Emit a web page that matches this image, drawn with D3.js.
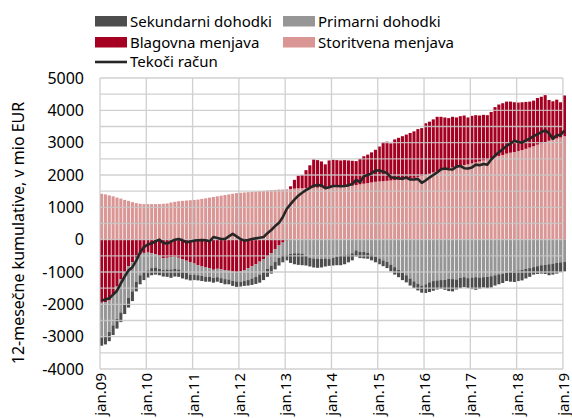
<!DOCTYPE html>
<html>
<head>
<meta charset="utf-8">
<script src="https://cdn.jsdelivr.net/npm/d3@7"></script>
<style>
  body { margin: 0; background: #fff; }
  text { font-family: "Noto Sans", sans-serif; fill: #000; }
</style>
</head>
<body>
<script>
// monthly data, jan.09 - jan.19 (12-month cumulatives, mio EUR)
var tickLabels = ["jan.09","jan.10","jan.11","jan.12","jan.13","jan.14","jan.15","jan.16","jan.17","jan.18","jan.19"];

var storitvena = [1420,1400,1370,1340,1300,1270,1230,1200,1160,1130,1110,1100,
  1100,1100,1100,1100,1110,1120,1150,1170,1190,1200,1210,1220,
  1230,1240,1260,1280,1300,1320,1340,1360,1380,1400,1420,1440,
  1450,1460,1470,1480,1490,1500,1510,1520,1530,1540,1550,1550,
  1560,1570,1580,1590,1590,1600,1600,1610,1610,1620,1620,1630,
  1640,1640,1650,1650,1660,1670,1690,1710,1730,1750,1770,1790,
  1800,1810,1820,1830,1840,1850,1860,1870,1890,1910,1940,1970,
  2000,2040,2080,2110,2140,2170,2200,2230,2260,2280,2310,2330,
  2360,2390,2420,2450,2480,2510,2550,2590,2620,2660,2690,2710,
  2740,2770,2810,2850,2890,2940,2980,3020,3060,3090,3130,3160,
  3200];

var blagovna = [-1950,-1930,-1880,-1700,-1450,-1220,-1000,-820,-700,-560,-460,-410,
  -400,-420,-450,-500,-580,-560,-540,-530,-560,-600,-650,-690,
  -740,-790,-830,-860,-880,-930,-900,-920,-940,-960,-990,-1000,
  -990,-940,-880,-820,-760,-680,-600,-520,-420,-300,-180,-90,
  -30,80,270,390,410,550,700,870,850,800,710,820,
  830,820,800,810,790,770,740,790,850,880,930,990,
  1080,1210,1210,1150,1260,1300,1340,1380,1410,1440,1480,1480,
  1600,1610,1640,1690,1660,1610,1560,1570,1520,1540,1530,1450,
  1470,1460,1420,1410,1370,1440,1550,1590,1600,1610,1580,1540,
  1500,1480,1450,1420,1410,1440,1440,1450,1260,1190,1200,1090,
  1260];

var primarni = [-1070,-1070,-970,-950,-1000,-1030,-1000,-980,-900,-740,-640,-590,
  -550,-460,-410,-400,-360,-360,-380,-370,-360,-380,-380,-390,
  -340,-310,-290,-290,-270,-250,-260,-270,-280,-270,-280,-290,
  -310,-340,-370,-380,-390,-400,-400,-380,-380,-380,-380,-380,
  -430,-440,-420,-420,-430,-500,-560,-580,-590,-590,-580,-600,
  -560,-520,-490,-470,-460,-420,-330,-370,-380,-400,-460,-520,
  -580,-640,-690,-770,-850,-940,-1020,-1100,-1200,-1290,-1360,-1420,
  -1380,-1320,-1280,-1260,-1250,-1240,-1210,-1220,-1230,-1180,-1160,-1190,
  -1170,-1160,-1170,-1160,-1150,-1130,-1100,-1070,-1050,-1020,-1000,-970,
  -950,-930,-900,-880,-850,-820,-790,-780,-760,-740,-720,-700,
  -680];

var sekundarni = [-260,-240,-290,-300,-300,-300,-300,-300,-300,-300,-280,-250,
  -220,-220,-220,-200,-200,-230,-260,-240,-230,-220,-200,-180,
  -170,-160,-160,-150,-150,-150,-140,-150,-160,-150,-160,-170,
  -150,-150,-170,-200,-220,-250,-250,-250,-250,-240,-240,-230,
  -180,-280,-340,-360,-360,-300,-270,-280,-280,-270,-250,-210,
  -240,-270,-300,-290,-240,-220,-190,-200,-200,-190,-180,-180,
  -180,-180,-190,-210,-230,-220,-230,-220,-220,-210,-210,-220,
  -270,-300,-300,-280,-270,-310,-380,-380,-310,-320,-310,-310,
  -360,-390,-350,-320,-350,-350,-320,-310,-290,-260,-300,-340,
  -330,-330,-300,-270,-230,-240,-260,-280,-340,-340,-330,-300,
  -300];

var tekoci = [-1880,-1850,-1810,-1700,-1580,-1350,-1140,-950,-850,-650,-400,-230,
  -150,-110,-50,0,-100,-120,-60,0,20,-20,-80,-60,
  -30,-20,-10,-20,-50,80,50,20,20,100,180,100,
  20,-30,-10,20,40,60,80,200,300,420,520,700,
  950,1100,1240,1360,1450,1530,1600,1670,1690,1680,1590,1620,
  1660,1660,1650,1660,1680,1720,1850,1780,1960,2000,2050,2140,
  2140,2100,2060,1930,1910,1900,1880,1920,1860,1860,1880,1760,
  1830,1920,2000,2080,2180,2200,2180,2170,2260,2280,2210,2200,
  2230,2320,2300,2340,2320,2480,2600,2700,2800,2900,2970,3060,
  3020,3000,3070,3120,3200,3260,3330,3380,3290,3120,3230,3240,
  3370];

var width = 572, height = 418;
var keys = ["storitvena", "blagovna", "primarni", "sekundarni"];
var colors = {sekundarni: "#4d4d4d", primarni: "#969696", blagovna: "#a50021", storitvena: "#d99694"};
var names = {sekundarni: "Sekundarni dohodki", primarni: "Primarni dohodki", blagovna: "Blagovna menjava", storitvena: "Storitvena menjava"};

var rows = storitvena.map(function(d, i) {
  return {i: i, storitvena: d, blagovna: blagovna[i], primarni: primarni[i], sekundarni: sekundarni[i]};
});

var x = d3.scaleBand().domain(d3.range(rows.length)).range([100, 566]).paddingInner(0.2).paddingOuter(0).align(0);
var step = x.step();
var y = d3.scaleLinear().domain([-4000, 5000]).range([369, 78]);

var svg = d3.select("body").append("svg")
  .attr("width", width)
  .attr("height", height);

var series = d3.stack().keys(keys).offset(d3.stackOffsetDiverging)(rows);

// bars
svg.append("g").selectAll("g")
  .data(series)
  .enter().append("g")
  .attr("fill", function(s) { return colors[s.key]; })
  .selectAll("rect")
  .data(function(s) { return s; })
  .enter().append("rect")
  .attr("x", function(d) { return x(d.data.i); })
  .attr("width", x.bandwidth())
  .attr("y", function(d) { return y(Math.max(d[0], d[1])); })
  .attr("height", function(d) { return Math.abs(y(d[0]) - y(d[1])); });

// grid (drawn over the bars, light)
var grid = svg.append("g").attr("stroke", "#c8c8c8").attr("stroke-width", 1.3).attr("opacity", 0.85);
grid.selectAll("line.h")
  .data(d3.range(-4000, 5001, 500))
  .enter().append("line")
  .attr("x1", 100).attr("x2", 100 + 120 * step)
  .attr("y1", function(d) { return y(d); })
  .attr("y2", function(d) { return y(d); });
grid.selectAll("line.v")
  .data(tickLabels)
  .enter().append("line")
  .attr("x1", function(d, k) { return x(k * 12); })
  .attr("x2", function(d, k) { return x(k * 12); })
  .attr("y1", y(5000)).attr("y2", y(-4000));

// current account line
var line = d3.line()
  .x(function(d, i) { return x(i) + x.bandwidth() / 2; })
  .y(function(d) { return y(d); });
svg.append("path")
  .datum(tekoci)
  .attr("d", line)
  .attr("fill", "none")
  .attr("stroke", "#262626")
  .attr("stroke-width", 2.6)
  .attr("stroke-linejoin", "round");

// y tick labels
svg.append("g").selectAll("text")
  .data(d3.range(-4000, 5001, 1000))
  .enter().append("text")
  .attr("x", 84)
  .attr("y", function(d) { return y(d); })
  .attr("dy", "0.35em")
  .attr("text-anchor", "end")
  .style("font-size", "16px")
  .text(function(d) { return d; });

// x tick labels
svg.append("g").selectAll("text")
  .data(tickLabels)
  .enter().append("text")
  .attr("transform", function(d, k) { return "translate(" + (x(k * 12) + 6) + ",373)rotate(-90)"; })
  .attr("text-anchor", "end")
  .style("font-size", "15px")
  .text(function(d) { return d; });

// y axis title
svg.append("text")
  .attr("transform", "translate(24,233)rotate(-90)")
  .attr("text-anchor", "middle")
  .style("font-size", "16px")
  .text("12-mesečne kumulative, v mio EUR");

// legend
var legendItems = [
  {key: "sekundarni", x: 95, y: 16},
  {key: "primarni", x: 283, y: 16},
  {key: "blagovna", x: 95, y: 37},
  {key: "storitvena", x: 283, y: 37}
];
var lg = svg.append("g");
legendItems.forEach(function(it) {
  lg.append("rect").attr("x", it.x).attr("y", it.y).attr("width", 32).attr("height", 10.5).attr("fill", colors[it.key]);
  lg.append("text").attr("x", it.x + 35).attr("y", it.y + 5.5).attr("dy", "0.35em")
    .style("font-size", "15px").text(names[it.key]);
});
lg.append("line").attr("x1", 95).attr("x2", 127).attr("y1", 62).attr("y2", 62)
  .attr("stroke", "#262626").attr("stroke-width", 2.6);
lg.append("text").attr("x", 130).attr("y", 62).attr("dy", "0.35em").style("font-size", "15px").text("Tekoči račun");
</script>
</body>
</html>
